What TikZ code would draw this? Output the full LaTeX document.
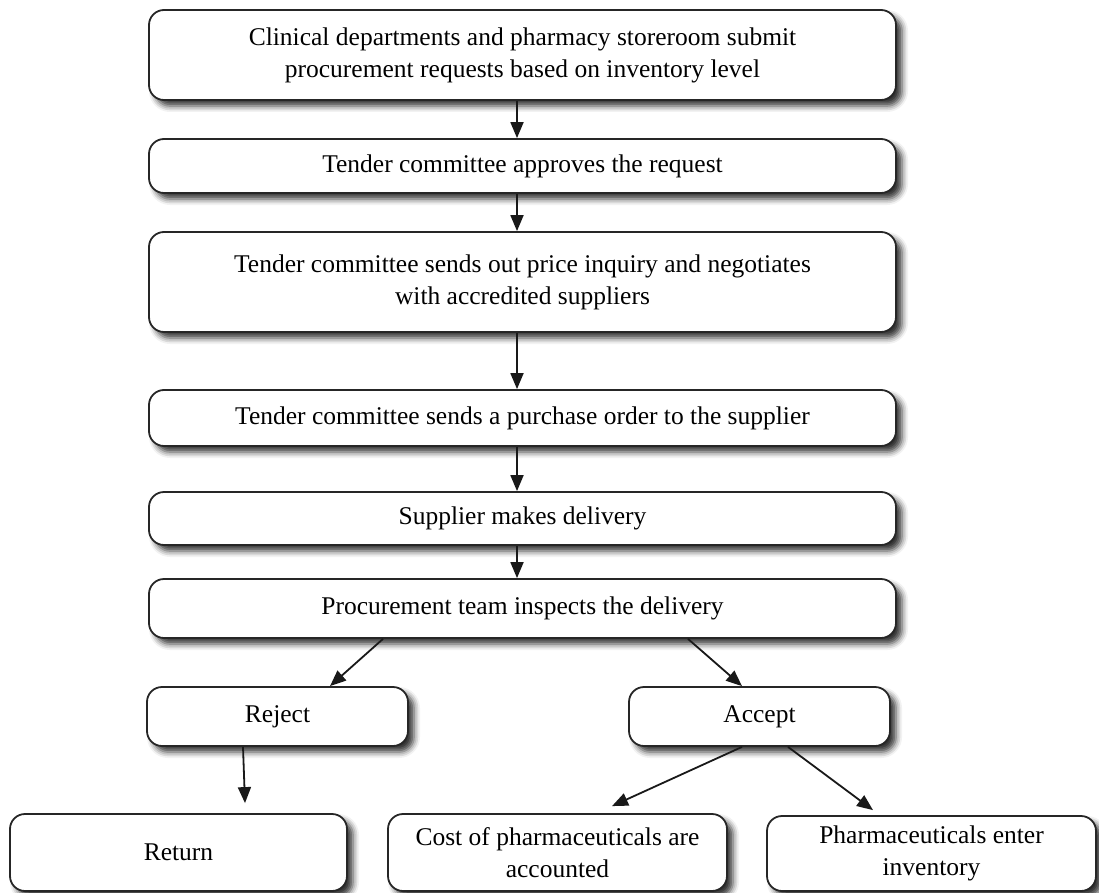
\documentclass[tikz,border=0pt]{standalone}
\usepackage{fontspec}
\setmainfont{Liberation Serif}
\usetikzlibrary{arrows.meta,shadows.blur,calc}
\begin{document}
\begin{tikzpicture}[x=1pt,y=-1pt,
  box/.style={draw=black!85, line width=1.8pt, rounded corners=15pt, fill=white,
    inner sep=0pt, align=center, font=\fontsize{25.5}{32}\selectfont,
    blur shadow={shadow xshift=6pt, shadow yshift=-6pt, shadow blur radius=6pt, shadow opacity=80}},
  arr/.style={line width=1.8pt, draw=black!90, -{Triangle[length=16pt,width=13pt]}}]
\useasboundingbox (0,0) rectangle (1099,893);
\node[box, minimum width=747pt, minimum height=90pt] (b1) at (522.5,55) {Clinical departments and pharmacy storeroom submit\\procurement requests based on inventory level};
\node[box, minimum width=747pt, minimum height=54pt] (b2) at (522.5,166) {Tender committee approves the request};
\node[box, minimum width=747pt, minimum height=100pt] (b3) at (522.5,282) {Tender committee sends out price inquiry and negotiates\\with accredited suppliers};
\node[box, minimum width=747pt, minimum height=56pt] (b4) at (522.5,418) {Tender committee sends a purchase order to the supplier};
\node[box, minimum width=747pt, minimum height=53pt] (b5) at (522.5,518.5) {Supplier makes delivery};
\node[box, minimum width=747pt, minimum height=59pt] (b6) at (522.5,608.5) {Procurement team inspects the delivery};
\node[box, minimum width=261pt, minimum height=59pt] (rej) at (277.5,716.5) {Reject};
\node[box, minimum width=261pt, minimum height=59pt] (acc) at (759.5,716.5) {Accept};
\node[box, minimum width=337pt, minimum height=77pt] (ret) at (178.5,852.5) {Return};
\node[box, minimum width=339pt, minimum height=77pt] (cost) at (557.5,852.5) {Cost of pharmaceuticals are\\accounted};
\node[box, minimum width=329pt, minimum height=75pt] (phar) at (931.5,853.5) {Pharmaceuticals enter\\inventory};
\draw[arr] ([xshift=-5.5pt]b1.south) -- ([xshift=-5.5pt]b2.north);
\draw[arr] ([xshift=-5.5pt]b2.south) -- ([xshift=-5.5pt]b3.north);
\draw[arr] ([xshift=-5.5pt]b3.south) -- ([xshift=-5.5pt]b4.north);
\draw[arr] ([xshift=-5.5pt]b4.south) -- ([xshift=-5.5pt]b5.north);
\draw[arr] ([xshift=-5.5pt]b5.south) -- ([xshift=-5.5pt]b6.north);
\draw[arr] ([xshift=-139.5pt]b6.south) -- ([xshift=52.5pt]rej.north);
\draw[arr] ([xshift=165.5pt]b6.south) -- ([xshift=-17.5pt]acc.north);
\draw[arr] ([xshift=-34.5pt]rej.south) -- ([xshift=66.5pt,yshift=10pt]ret.north);
\draw[arr] ([xshift=-17.5pt]acc.south) -- ([xshift=54.5pt,yshift=7pt]cost.north);
\draw[arr] ([xshift=28.5pt]acc.south) -- ([xshift=-58.5pt,yshift=5pt]phar.north);
\end{tikzpicture}
\end{document}
